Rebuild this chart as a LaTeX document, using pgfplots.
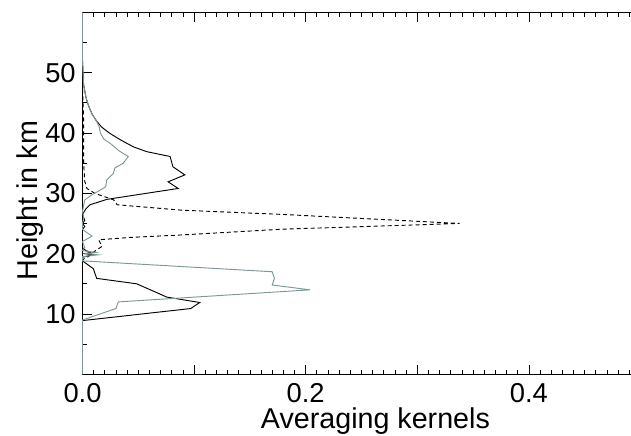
\documentclass[border=0pt]{standalone}
\usepackage{fontspec}
\setmainfont{Liberation Sans}
\usepackage{pgfplots}
\pgfplotsset{compat=1.18}
\definecolor{kgray}{RGB}{125,150,150}
\begin{document}
\begin{tikzpicture}
\path[use as bounding box] (-61.875pt,-45.525pt) rectangle (411.375pt,280.725pt);
\clip (-61.875pt,-45.525pt) rectangle (411.375pt,280.725pt);
\begin{axis}[
 at={(0pt,0pt)}, anchor=south west,
 scale only axis, width=418.5pt, height=271.5pt,
 xmin=0, xmax=0.5, ymin=0, ymax=60,
 xtick={0,0.1,0.2,0.3,0.4,0.5}, xticklabels={0.0,,0.2,,0.4,},
 minor x tick num=9,
 ytick={10,20,30,40,50}, minor ytick={5,15,25,35,45,55},
 major tick length=7pt, minor tick length=3.5pt,
 tick style={black, line width=0.6pt},
 axis line style={line width=0.75pt},
 ticklabel style={font=\fontsize{20.5}{24}\selectfont},
 /pgf/number format/assume math mode=true,
 xticklabel style={anchor=north, inner sep=0pt, yshift=-6.5pt},
 yticklabel style={anchor=east, inner sep=0pt, xshift=-4.9pt},
 xlabel={Averaging kernels}, ylabel={Height in km},
 label style={font=\fontsize{21.5}{26}\selectfont},
 xlabel style={at={(axis description cs:0.525,-0.1503)}, anchor=base},
 ylabel style={at={(axis description cs:-0.0815,0.48)}, anchor=base},
 clip=false,
]
% dashed
\addplot[black, line width=0.7pt, dash pattern=on 3pt off 2.25pt] coordinates {
(0,60)(0,48)(0.0005,45)(0.001,42)(0.001,40)(0.001,35)(0.002,32)(0.004,30.8)(0.011,30.0)
(0.028,28.9)(0.031,28.1)(0.089,27.2)(0.179,26.5)(0.338,25.0)(0.179,24.05)(0.089,23.1)
(0.044,22.7)(0.0145,22.3)(0.0175,21.2)(0.011,20.4)(0.005,19.5)(0,19)(0,0)};
% black solid
\addplot[black, line width=0.7pt] coordinates {
(0,60)(0,52)(0.0005,50)(0.001,48)(0.003,46)(0.0045,45)(0.0065,44)(0.009,43)(0.0125,42)
(0.017,41)(0.024,40)(0.0336,38.9)(0.0456,37.7)(0.0576,36.9)(0.0785,36.1)(0.081,34.4)
(0.0917,33.05)(0.0767,31.9)(0.0857,30.8)(0.022,29.0)(0.0067,28.1)(0.003,27.4)(0,26.5)
(0.002,25.5)(0,25)(0.002,24.5)(0,24)(0,21)(0.003,20.5)(0.008,20.2)(0.002,20)(0.009,19.8)
(0,19.4)(0,18.8)(0.0097,17.5)(0.0127,15.9)(0.0486,15.0)(0.0755,12.8)(0.105,11.9)
(0.097,10.9)(0,8.9)(0,0)};
% gray
\addplot[kgray, line width=0.7pt] coordinates {
(0,60)(0,52)(0.0005,50)(0.001,48)(0.003,46)(0.0045,45)(0.0065,44)(0.009,43)(0.0125,42)
(0.015,41)(0.016,40)(0.019,39)(0.0247,38.3)(0.033,37)(0.041,36.1)(0.0366,35.0)(0.029,34.2)
(0.0276,33.3)(0.0217,32.2)(0.0208,31.1)(0.0184,30.8)(0.008,29.7)(0.002,28.9)(0.001,28)
(0,27)(0.001,26)(0,25)(0,24)(0.0085,22.9)(0,22)(0.002,21)(0,20.5)(0.012,20.2)(0.003,20.0)
(0.014,19.8)(0,19.5)(0,18.8)(0.170,17.0)(0.172,15.9)(0.170,14.8)(0.204,14.0)(0.032,12.0)
(0.030,10.9)(0,9.0)(0,0)};
\end{axis}
\end{tikzpicture}
\end{document}
